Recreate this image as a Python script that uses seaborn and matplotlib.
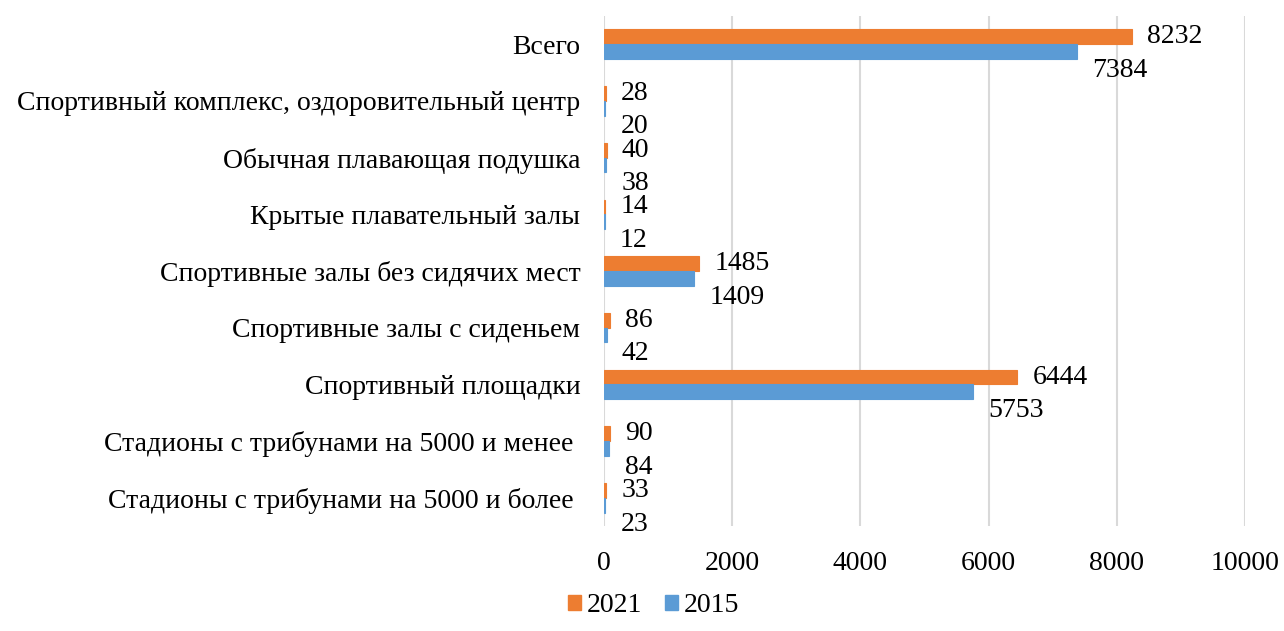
import pandas as pd
import matplotlib.pyplot as plt
import seaborn as sns

# Categories (top to bottom) and values for each year
categories = [
    "Всего",
    "Спортивный комплекс, оздоровительный центр",
    "Обычная плавающая подушка",
    "Крытые плавательный залы",
    "Спортивные залы без сидячих мест",
    "Спортивные залы с сиденьем",
    "Спортивный площадки",
    "Стадионы с трибунами на 5000 и менее ",
    "Стадионы с трибунами на 5000 и более ",
]
values_2021 = [8232, 28, 40, 14, 1485, 86, 6444, 90, 33]
values_2015 = [7384, 20, 38, 12, 1409, 42, 5753, 84, 23]
years = ["2021", "2015"]
x_ticks = [0, 2000, 4000, 6000, 8000, 10000]

df = pd.DataFrame({
    "category": categories * 2,
    "year": [years[0]] * len(categories) + [years[1]] * len(categories),
    "value": values_2021 + values_2015,
})

sns.set_style("white")
plt.rcParams["font.family"] = ["Liberation Serif", "DejaVu Serif"]
plt.rcParams["text.color"] = "black"
plt.rcParams["xtick.color"] = "black"
plt.rcParams["ytick.color"] = "black"

palette = {"2021": "#ED7D31", "2015": "#5B9BD5"}
fs = 20

fig = plt.figure(figsize=(12.84, 6.31), dpi=100)
ax = fig.add_axes([0.4704, 0.166, 0.4992, 0.809])

sns.barplot(data=df, y="category", x="value", hue="year", hue_order=years,
            order=categories, palette=palette, orient="h", width=0.52,
            saturation=1, ax=ax, legend=False)

# thin outline in the bar colour so the tiny bars stay visible
for container, year in zip(ax.containers, years):
    for bar in container:
        bar.set_edgecolor(palette[year])
        bar.set_linewidth(0.8)

ax.set_xlim(0, 10000)
ax.set_xticks(x_ticks)
ax.xaxis.grid(True, color="#D9D9D9", linewidth=1.5)
ax.set_axisbelow(True)
for side in ["top", "right", "bottom", "left"]:
    ax.spines[side].set_visible(False)
ax.tick_params(axis="x", length=0, pad=18, labelsize=fs)
ax.tick_params(axis="y", length=0, pad=17, labelsize=fs)
ax.set_xlabel("")
ax.set_ylabel("")

# Data labels: 2021 beside its bar, 2015 shifted down below its bar
for container, dy in zip(ax.containers, [0, -13.5]):
    for bar in container:
        w = bar.get_width()
        yc = bar.get_y() + bar.get_height() / 2
        ax.annotate(f"{int(round(w))}", xy=(w, yc), xytext=(11, dy),
                    textcoords="offset points", va="center", ha="left",
                    fontsize=fs, color="black")

handles = [plt.Rectangle((0, 0), 1, 1, color=palette[y]) for y in years]
fig.legend(handles, years, loc="center", bbox_to_anchor=(0.509, 0.04), ncol=2,
           frameon=False, fontsize=fs, handlelength=0.47, handleheight=0.47,
           handletextpad=0.2, columnspacing=0.85)

fig.savefig("out.png", dpi=100)
